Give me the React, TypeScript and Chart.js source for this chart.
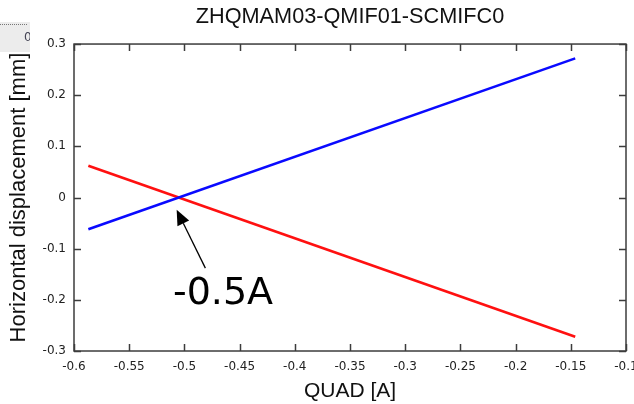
import React, { useEffect, useRef } from "react";
import { Chart, registerables } from "chart.js";

Chart.register(...registerables);

// ---- data ----
const chartTitle = "ZHQMAM03-QMIF01-SCMIFC0";
const xAxisTitle = "QUAD [A]";
const yAxisTitle = "Horizontal displacement [mm]";
const quadCurrent = [-0.587, -0.146];
const blueDisplacement = [-0.062, 0.272];
const redDisplacement = [0.062, -0.272];
const xTicks = [-0.6, -0.55, -0.5, -0.45, -0.4, -0.35, -0.3, -0.25, -0.2, -0.15, -0.1];
const yTicks = [0.3, 0.2, 0.1, 0, -0.1, -0.2, -0.3];
const annotationText = "-0.5A";
const arrowTip = [-0.507, -0.024];
const arrowTail = [-0.481, -0.138];
const annotationPos = [-0.465, -0.189];

const W = 634;
const H = 404;

const framePlugin = {
  id: "frame",
  beforeDraw(chart: any) {
    const ctx = chart.ctx;
    ctx.save();
    ctx.fillStyle = "#ececec";
    ctx.fillRect(0, 22, 30, 30);
    ctx.strokeStyle = "#777";
    ctx.lineWidth = 1;
    ctx.setLineDash([1, 1]);
    ctx.beginPath();
    ctx.moveTo(0, 24.5);
    ctx.lineTo(28, 24.5);
    ctx.stroke();
    ctx.setLineDash([]);
    ctx.beginPath();
    ctx.rect(0, 22, 30, 30);
    ctx.clip();
    ctx.fillStyle = "#445";
    ctx.font = "12px 'DejaVu Sans'";
    ctx.textBaseline = "middle";
    ctx.fillText("0", 24, 38);
    ctx.restore();
  },
  beforeDatasetsDraw(chart: any) {
    const { ctx, chartArea: a, scales } = chart;
    const x = scales.x;
    const y = scales.y;
    ctx.save();
    ctx.strokeStyle = "#3c3c3c";
    ctx.lineWidth = 1.5;
    ctx.strokeRect(a.left, a.top, a.right - a.left, a.bottom - a.top);
    const L = 7;
    ctx.beginPath();
    xTicks.forEach((v) => {
      const px = Math.round(x.getPixelForValue(v)) + 0.5;
      ctx.moveTo(px, a.bottom);
      ctx.lineTo(px, a.bottom - L);
      ctx.moveTo(px, a.top);
      ctx.lineTo(px, a.top + L);
    });
    yTicks.forEach((v) => {
      const py = Math.round(y.getPixelForValue(v)) + 0.5;
      ctx.moveTo(a.left, py);
      ctx.lineTo(a.left + L, py);
      ctx.moveTo(a.right, py);
      ctx.lineTo(a.right - L, py);
    });
    ctx.stroke();
    ctx.restore();
  },
  afterDatasetsDraw(chart: any) {
    const { ctx, scales } = chart;
    const x = scales.x;
    const y = scales.y;
    const tx = x.getPixelForValue(arrowTip[0]);
    const ty = y.getPixelForValue(arrowTip[1]);
    const sx = x.getPixelForValue(arrowTail[0]);
    const sy = y.getPixelForValue(arrowTail[1]);
    const ang = Math.atan2(ty - sy, tx - sx);
    const headLen = 15;
    const headHalf = 6.5;
    const bx = tx - headLen * Math.cos(ang);
    const by = ty - headLen * Math.sin(ang);
    ctx.save();
    ctx.strokeStyle = "#000";
    ctx.fillStyle = "#000";
    ctx.lineWidth = 1.3;
    ctx.beginPath();
    ctx.moveTo(sx, sy);
    ctx.lineTo(bx, by);
    ctx.stroke();
    ctx.beginPath();
    ctx.moveTo(tx, ty);
    ctx.lineTo(bx + headHalf * Math.sin(ang), by - headHalf * Math.cos(ang));
    ctx.lineTo(bx - headHalf * Math.sin(ang), by + headHalf * Math.cos(ang));
    ctx.closePath();
    ctx.fill();
    ctx.font = "38px 'DejaVu Sans'";
    ctx.textAlign = "center";
    ctx.textBaseline = "middle";
    ctx.fillText(
      annotationText,
      x.getPixelForValue(annotationPos[0]),
      y.getPixelForValue(annotationPos[1])
    );
    ctx.restore();
  },
};

export default function App() {
  const ref = useRef<HTMLCanvasElement | null>(null);

  useEffect(() => {
    if (!ref.current) return;
    const tickFont = { family: "'DejaVu Sans', sans-serif", size: 12 };
    const fam = "'Liberation Sans', Arial, sans-serif";
    const chart = new Chart(ref.current, {
      type: "scatter",
      data: {
        datasets: [
          {
            label: "blue",
            data: quadCurrent.map((q, i) => ({ x: q, y: blueDisplacement[i] })),
            showLine: true,
            borderColor: "#0a0aff",
            backgroundColor: "#0a0aff",
            borderWidth: 2.6,
            pointRadius: 0,
          },
          {
            label: "red",
            data: quadCurrent.map((q, i) => ({ x: q, y: redDisplacement[i] })),
            showLine: true,
            borderColor: "#ff1010",
            backgroundColor: "#ff1010",
            borderWidth: 2.6,
            pointRadius: 0,
          },
        ],
      },
      options: {
        responsive: false,
        animation: false,
        layout: { padding: { left: 0, right: 8, top: 0, bottom: 0 } },
        plugins: {
          legend: { display: false },
          tooltip: { enabled: false },
          title: {
            display: true,
            text: chartTitle,
            fullSize: false,
            color: "#111",
            font: { family: fam, size: 21.7, weight: "normal" },
            padding: { top: 4, bottom: 14 },
          },
        },
        scales: {
          x: {
            type: "linear",
            min: -0.6,
            max: -0.1,
            grid: { display: false, drawTicks: false },
            border: { display: false },
            afterBuildTicks: (s: any) => {
              s.ticks = xTicks.map((v) => ({ value: v }));
            },
            afterFit: (s: any) => {
              s.height = 53;
              s.paddingLeft = 0;
              s.paddingRight = 0;
            },
            ticks: {
              autoSkip: false,
              maxRotation: 0,
              padding: 9,
              color: "#222",
              font: tickFont,
              callback: (v: any) => String(v),
            },
            title: {
              display: true,
              text: xAxisTitle,
              color: "#111",
              font: { family: fam, size: 21, weight: "normal" },
              padding: { top: 0, bottom: 0 },
            },
          },
          y: {
            type: "linear",
            min: -0.3,
            max: 0.3,
            grid: { display: false, drawTicks: false },
            border: { display: false },
            afterBuildTicks: (s: any) => {
              s.ticks = yTicks.map((v) => ({ value: v }));
            },
            afterFit: (s: any) => {
              s.width = 74;
              s.paddingTop = 0;
              s.paddingBottom = 0;
            },
            ticks: {
              autoSkip: false,
              padding: 8,
              color: "#222",
              font: tickFont,
              callback: (v: any) => String(v),
            },
            title: {
              display: true,
              text: yAxisTitle,
              color: "#111",
              font: { family: fam, size: 22, weight: "normal" },
              padding: { top: 6, bottom: 0 },
            },
          },
        },
      },
      plugins: [framePlugin],
    });
    return () => chart.destroy();
  }, []);

  return (
    <div style={{ position: "absolute", left: 0, top: 0, width: W, height: H, background: "#fff" }}>
      <canvas ref={ref} width={W} height={H} style={{ display: "block" }} />
    </div>
  );
}
